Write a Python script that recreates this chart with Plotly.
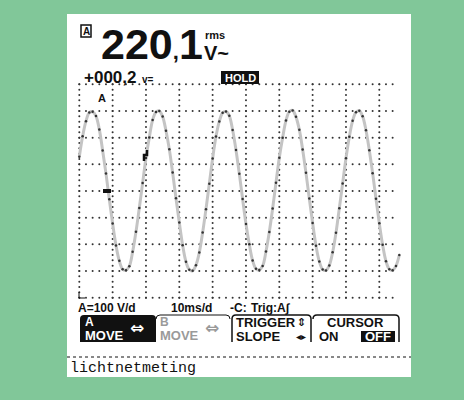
import plotly.graph_objects as go

W, H = 464, 400

time_ms = list(range(0, 97))  # 1 ms steps, 10 ms/div
volts = [
    128, 205, 262, 294, 297, 281, 231, 152, 66, -31, -122, -204, -262, -293, -297, -282, -228, -153, -64, 30,
    124, 201, 266, 296, 300, 279, 226, 157, 69, -27, -118, -203, -265, -295, -299, -278, -231, -156, -68, 27,
    122, 204, 261, 293, 298, 282, 229, 154, 65, -30, -124, -200, -261, -292, -296, -281, -227, -154, -66, 31,
    125, 200, 264, 297, 302, 278, 230, 156, 68, -28, -120, -205, -264, -294, -298, -279, -230, -157, -65, 28,
    123, 203, 263, 295, 301, 280, 228, 153, 67, -29, -121, -202, -263, -293, -297, -281, -240,
]
reading_main = "220"
reading_dec = "1"
reading_dc = "+000,2"
status_labels = ["A=100 V/d", "10ms/d", "-C:", "Trig:A∫"]
memo = "lichtnetmeting"

# ---- geometry helpers ----
X0, PXMS = 79.3, 10 / 3.0       # pixel of t=0, pixels per ms
Y0, PXV = 191.0, 26.667 / 100.0  # pixel of 0 V, pixels per volt


def X(px):
    return px / W


def Y(py):
    return 1 - py / H


GREEN = "rgb(129,199,153)"
INK = "#111111"

fig = go.Figure()

# grid dots
gx, gy = [], []
for v in range(-400, 401, 100):
    for t in range(0, 95, 2):
        gx.append(t)
        gy.append(v)
for t in range(0, 91, 10):
    for v in range(-400, 401, 20):
        gx.append(t)
        gy.append(v)
fig.add_trace(go.Scatter(x=gx, y=gy, mode="markers",
                         marker=dict(size=2, color="#333333"),
                         hoverinfo="skip", showlegend=False))

# waveform
fig.add_trace(go.Scatter(x=time_ms, y=volts, mode="lines+markers",
                         line=dict(color="#c4c4c4", width=3, shape="spline"),
                         marker=dict(size=2.5, color="#333333"),
                         showlegend=False))

shapes = []
# white panel
shapes.append(dict(type="rect", xref="paper", yref="paper", layer="below",
                   x0=X(67), x1=X(411), y0=Y(377), y1=Y(14),
                   fillcolor="white", line=dict(width=0)))
# bottom-left corner mark of graticule
shapes.append(dict(type="path", xref="paper", yref="paper",
                   path=f"M {X(79)} {Y(292)} L {X(79)} {Y(298)} L {X(85)} {Y(298)}",
                   line=dict(color=INK, width=1)))
# ground-level marker and trigger marker
shapes.append(dict(type="rect", xref="paper", yref="paper",
                   x0=X(103), x1=X(111), y0=Y(193), y1=Y(189),
                   fillcolor=INK, line=dict(width=0)))
shapes.append(dict(type="path", xref="paper", yref="paper",
                   path=f"M {X(144)} {Y(161)} L {X(144)} {Y(155)} L {X(147)} {Y(155)} L {X(147)} {Y(150)}",
                   line=dict(color=INK, width=2.5)))
# boxed A
shapes.append(dict(type="rect", xref="paper", yref="paper",
                   x0=X(81), x1=X(91), y0=Y(37), y1=Y(25),
                   fillcolor="white", line=dict(color=INK, width=1.5)))
# HOLD box
shapes.append(dict(type="rect", xref="paper", yref="paper",
                   x0=X(221), x1=X(259), y0=Y(84), y1=Y(71),
                   fillcolor=INK, line=dict(width=0)))
# softkey 1 (inverted)
shapes.append(dict(type="path", xref="paper", yref="paper",
                   path=(f"M {X(80)} {Y(342)} L {X(80)} {Y(319)} Q {X(80)} {Y(315)} {X(84)} {Y(315)} "
                         f"L {X(152)} {Y(315)} Q {X(156)} {Y(315)} {X(156)} {Y(319)} L {X(156)} {Y(342)} Z"),
                   fillcolor=INK, line=dict(width=0)))
# softkey 2 outline (top)
shapes.append(dict(type="path", xref="paper", yref="paper",
                   path=f"M {X(156)} {Y(319)} Q {X(156)} {Y(315)} {X(160)} {Y(315)} L {X(226)} {Y(315)} Q {X(230)} {Y(315)} {X(230)} {Y(319)}",
                   line=dict(color=INK, width=1)))
# softkey 3 outline
shapes.append(dict(type="path", xref="paper", yref="paper",
                   path=(f"M {X(232)} {Y(342)} L {X(232)} {Y(319)} Q {X(232)} {Y(315)} {X(236)} {Y(315)} "
                         f"L {X(307)} {Y(315)} Q {X(311)} {Y(315)} {X(311)} {Y(319)} L {X(311)} {Y(342)}"),
                   line=dict(color=INK, width=1.5)))
# softkey 4 outline
shapes.append(dict(type="path", xref="paper", yref="paper",
                   path=(f"M {X(313)} {Y(319)} Q {X(313)} {Y(315)} {X(317)} {Y(315)} "
                         f"L {X(395)} {Y(315)} Q {X(399)} {Y(315)} {X(399)} {Y(319)} L {X(399)} {Y(342)}"),
                   line=dict(color=INK, width=1.5)))
# OFF box
shapes.append(dict(type="rect", xref="paper", yref="paper",
                   x0=X(361), x1=X(395), y0=Y(342), y1=Y(331),
                   fillcolor=INK, line=dict(width=0)))
# dashed separator
shapes.append(dict(type="line", xref="paper", yref="paper",
                   x0=X(67), x1=X(411), y0=Y(357), y1=Y(357),
                   line=dict(color=INK, width=1, dash="3px,3px")))

ann = []


def txt(text, px, py, size, color=INK, family="Liberation Sans, Arial, sans-serif",
        bold=True, xanchor="left"):
    t = f"<b>{text}</b>" if bold else text
    ann.append(dict(text=t, x=X(px), y=Y(py), xref="paper", yref="paper",
                    xanchor=xanchor, yanchor="middle", showarrow=False,
                    font=dict(size=size, color=color, family=family), borderpad=0))


SANS = "Liberation Sans, Arial, sans-serif"

txt("A", 86, 31.5, 10, xanchor="center")
txt(f"{reading_main}<span style='font-size:22px'>,</span>{reading_dec}", 100, 44.5, 43, family=SANS)
txt("rms", 204, 35, 11, family=SANS)
txt("V~", 203, 53, 20, family=SANS)
txt(reading_dc, 83, 77.5, 17, family=SANS)
txt("v=", 141, 79, 10, family=SANS)
txt("HOLD", 240, 78, 11, color="white", xanchor="center")
txt("A", 97, 97.5, 11)

txt(status_labels[0], 77, 308, 12)
txt(status_labels[1], 170, 308, 12)
txt(status_labels[2], 229, 308, 12)
txt(status_labels[3], 250, 308, 12)

txt("A", 84, 322, 12, color="white")
txt("MOVE", 84, 335, 13, color="white")
txt("⇔", 137, 328, 17, color="white", xanchor="center", family="DejaVu Sans")
txt("B", 159, 322, 12, color="#9a9a9a")
txt("MOVE", 159, 335, 13, color="#9a9a9a")
txt("⇔", 212, 328, 17, color="#9a9a9a", xanchor="center", family="DejaVu Sans")
txt("TRIGGER", 235, 322, 13)
txt("⇕", 296, 322, 11, family="DejaVu Sans")
txt("SLOPE", 235, 336, 13)
txt("◂▸", 301, 336, 10, xanchor="center", family="DejaVu Sans")
txt("CURSOR", 355, 322, 13, xanchor="center")
txt("ON", 318, 336, 13)
txt("OFF", 378, 336.5, 13, color="white", xanchor="center")

txt(memo, 69, 368, 15, family="Liberation Mono, DejaVu Sans Mono, monospace", bold=False)

fig.update_layout(
    width=W, height=H,
    margin=dict(l=0, r=0, t=0, b=0),
    paper_bgcolor=GREEN, plot_bgcolor="rgba(0,0,0,0)",
    xaxis=dict(range=[(0 - X0) / PXMS, (W - X0) / PXMS], visible=False, fixedrange=True),
    yaxis=dict(range=[(Y0 - H) / PXV, Y0 / PXV], visible=False, fixedrange=True),
    shapes=shapes, annotations=ann, showlegend=False,
)

fig.write_html("out.html", config={"displayModeBar": False},
               post_script="document.body.style.margin='0';document.body.style.background='" + GREEN + "';")
